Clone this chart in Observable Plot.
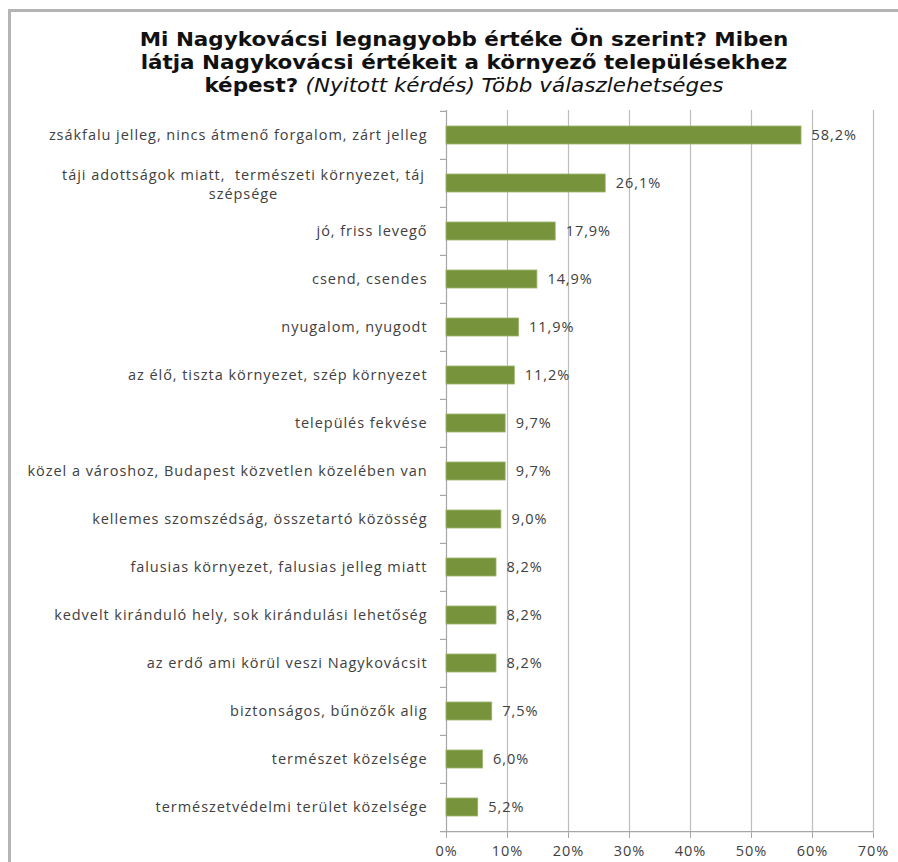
<!DOCTYPE html>
<html>
<head>
<meta charset="utf-8">
<script src="https://cdn.jsdelivr.net/npm/d3@7"></script>
<script src="https://cdn.jsdelivr.net/npm/@observablehq/plot@0.6"></script>
<style>
  html, body { margin: 0; padding: 0; background: #fff; }
  #wrap { position: relative; width: 898px; height: 862px; overflow: hidden; }
  #frame { position: absolute; left: 8px; top: 9px; width: 1000px; height: 1000px;
           border-left: 3px solid #b4b4b4; border-top: 3px solid #b4b4b4; box-sizing: border-box; }
  #title { position: absolute; left: 0; top: 28px; width: 928px; text-align: center;
           font-family: "DejaVu Sans", sans-serif; font-weight: bold; font-size: 19px;
           line-height: 23px; color: #111; transform: scaleX(1.13); transform-origin: 464px 0; }
  #title i { font-weight: normal; }
  #chart { position: absolute; left: 0; top: 0; }
  #chart svg text { letter-spacing: 0.95px; }
</style>
</head>
<body>
<div id="wrap">
  <div id="frame"></div>
  <div id="title">Mi Nagykovácsi legnagyobb értéke Ön szerint? Miben<br>látja Nagykovácsi értékeit a környező településekhez<br>képest? <i>(Nyitott kérdés) Több válaszlehetséges</i></div>
  <div id="chart"></div>
</div>
<script>
const categories = [
  "zsákfalu jelleg, nincs átmenő forgalom, zárt jelleg",
  "táji adottságok miatt,  természeti környezet, táj szépsége",
  "jó, friss levegő",
  "csend, csendes",
  "nyugalom, nyugodt",
  "az élő, tiszta környezet, szép környezet",
  "település fekvése",
  "közel a városhoz, Budapest közvetlen közelében van",
  "kellemes szomszédság, összetartó közösség",
  "falusias környezet, falusias jelleg miatt",
  "kedvelt kiránduló hely, sok kirándulási lehetőség",
  "az erdő ami körül veszi Nagykovácsit",
  "biztonságos, bűnözők alig",
  "természet közelsége",
  "természetvédelmi terület közelsége"
];
const values = [58.2, 26.1, 17.9, 14.9, 11.9, 11.2, 9.7, 9.7, 9.0, 8.2, 8.2, 8.2, 7.5, 6.0, 5.2];
const xTicks = [0, 10, 20, 30, 40, 50, 60, 70];
const wrappedLabels = { "táji adottságok miatt,  természeti környezet, táj szépsége": "táji adottságok miatt,  természeti környezet, táj\nszépsége" };

const data = categories.map((c, i) => ({ category: c, value: values[i] }));
const fmt = v => v.toFixed(1).replace(".", ",") + "%";
const labelFont = "Open Sans, sans-serif";
const textColor = "#404040";
const fs = 14.5;

const W = 898, H = 862;
const mTop = 110, mBottom = 29;
const band = (H - mTop - mBottom) / categories.length;

const chart = Plot.plot({
  width: W,
  height: H,
  marginLeft: 446,
  marginRight: 25,
  marginTop: mTop,
  marginBottom: mBottom,
  style: { fontFamily: labelFont, background: "transparent", overflow: "visible" },
  x: { domain: [0, 70], label: null },
  y: { domain: categories, paddingInner: 0.62, paddingOuter: 0.31, label: null },
  marks: [
    Plot.gridX(xTicks.filter(d => d > 0), { stroke: "#bdbdbd", strokeOpacity: 1, strokeWidth: 1.2 }),
    Plot.ruleX([0], { stroke: "#a6a6a6", strokeWidth: 1.2 }),
    Plot.ruleY([0], { y: () => categories[categories.length - 1], x1: -1, x2: 70, dy: band / 2,
      stroke: "#a6a6a6", strokeWidth: 1.2 }),
    Plot.ruleY(categories, { y: d => d, x1: -1, x2: 0, dy: -band / 2, stroke: "#a6a6a6", strokeWidth: 1.2 }),
    Plot.barX(data, { x: "value", y: "category", fill: "#77933C", stroke: "#9bb56a", strokeWidth: 0.8 }),
    Plot.text(data, { x: "value", y: "category", text: d => fmt(d.value), dx: 10, textAnchor: "start",
      fill: textColor, fontSize: fs, fontFamily: labelFont }),
    Plot.axisY({ tickSize: 0, tickPadding: 19, fontSize: fs, fill: textColor, label: null,
      tickFormat: d => wrappedLabels[d] ? "" : d }),
    Plot.text(categories.filter(c => wrappedLabels[c]), { y: d => d, frameAnchor: "left",
      text: d => wrappedLabels[d], textAnchor: "middle", lineAnchor: "middle", lineHeight: 1.3,
      dx: -203, fill: textColor, fontSize: fs, fontFamily: labelFont }),
    Plot.axisX(xTicks, { tickSize: 5, tickPadding: 7, fontSize: fs, fill: textColor, stroke: "#a6a6a6",
      label: null, tickFormat: d => d + "%" })
  ]
});
document.getElementById("chart").appendChild(chart);
</script>
</body>
</html>
